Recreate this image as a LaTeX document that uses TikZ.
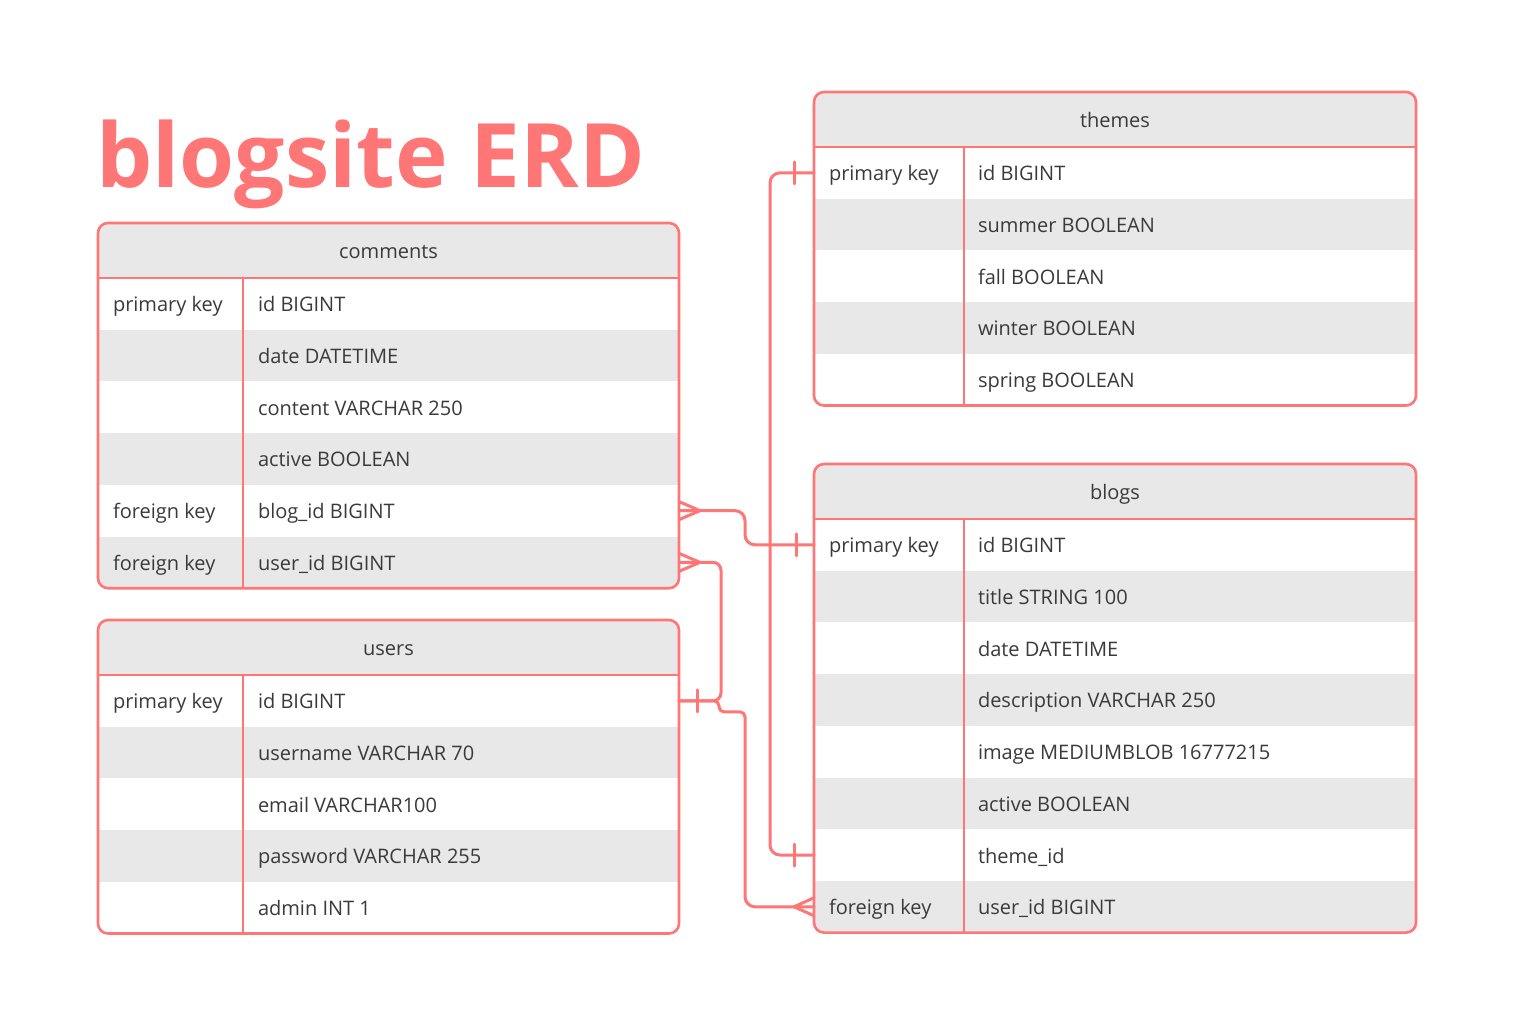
\documentclass[tikz,border=0pt]{standalone}
\usepackage{fontspec}
\setmainfont{Open Sans}
\definecolor{erd}{HTML}{FF7676}
\definecolor{rowgray}{HTML}{E8E8E8}
\definecolor{txt}{HTML}{3A3A3A}
\newcommand\erdrow[8]{%
  \node[rowcell, fill=#6, minimum width=#4, anchor=north west] (#1) at (#2,#3) {};
  \node[celltext] (#1-k) at ([xshift=15, yshift=-8]#1.west) {#7};
  \node[celltext] (#1-v) at ([xshift={#5+15}, yshift=-8]#1.west) {#8};
}
\newcommand\erdhead[5]{% name, x, y, width, title
  \node[rowcell, fill=rowgray, minimum width=#4, minimum height=55, anchor=north west] (#1) at (#2,#3) {};
  \node[celltext, anchor=base] (#1-t) at ([yshift=-8]#1.center) {#5};
}
\begin{document}
\begin{tikzpicture}[x=1pt,y=-1pt,
  rowcell/.style={draw=none, inner sep=0, outer sep=0, minimum height=51.7},
  celltext/.style={anchor=base west, inner sep=0, outer sep=0, text=txt, font=\fontsize{20}{24}\selectfont},
  tableline/.style={draw=erd, line width=2.6},
  conn/.style={draw=erd, line width=3, line cap=round, line join=round}]
\useasboundingbox[fill=white] (0,0) rectangle (1524,1025);

\node[anchor=base west, inner sep=0, text=erd, font=\fontsize{89}{100}\selectfont\bfseries] (title) at (96,187) {blogsite ERD};

% ---------- comments ----------
\begin{scope}
\clip[rounded corners=10] (98,223) rectangle (679,588.2);
\erdhead{comments}{98}{223}{581}{comments}
\erdrow{cid}{98}{278}{581}{145}{white}{primary key}{id BIGINT}
\erdrow{cdate}{98}{329.7}{581}{145}{rowgray}{}{date DATETIME}
\erdrow{ccontent}{98}{381.4}{581}{145}{white}{}{content VARCHAR 250}
\erdrow{cactive}{98}{433.1}{581}{145}{rowgray}{}{active BOOLEAN}
\erdrow{cblog}{98}{484.8}{581}{145}{white}{foreign key}{blog\_id BIGINT}
\erdrow{cuser}{98}{536.5}{581}{145}{rowgray}{foreign key}{user\_id BIGINT}
\end{scope}
\draw[tableline] (98,278) -- (679,278);
\draw[tableline] (243,278) -- (243,588.2);
\draw[tableline, rounded corners=10] (98,223) rectangle (679,588.2);

% ---------- users ----------
\begin{scope}
\clip[rounded corners=10] (98,620) rectangle (679,933.5);
\erdhead{users}{98}{620}{581}{users}
\erdrow{uid}{98}{675}{581}{145}{white}{primary key}{id BIGINT}
\erdrow{uname}{98}{726.7}{581}{145}{rowgray}{}{username VARCHAR 70}
\erdrow{uemail}{98}{778.4}{581}{145}{white}{}{email VARCHAR100}
\erdrow{upass}{98}{830.1}{581}{145}{rowgray}{}{password VARCHAR 255}
\erdrow{uadmin}{98}{881.8}{581}{145}{white}{}{admin INT 1}
\end{scope}
\draw[tableline] (98,675) -- (679,675);
\draw[tableline] (243,675) -- (243,933.5);
\draw[tableline, rounded corners=10] (98,620) rectangle (679,933.5);

% ---------- themes ----------
\begin{scope}
\clip[rounded corners=10] (814,92) rectangle (1416,405.5);
\erdhead{themes}{814}{92}{602}{themes}
\erdrow{tid}{814}{147}{602}{149}{white}{primary key}{id BIGINT}
\erdrow{tsummer}{814}{198.7}{602}{149}{rowgray}{}{summer BOOLEAN}
\erdrow{tfall}{814}{250.4}{602}{149}{white}{}{fall BOOLEAN}
\erdrow{twinter}{814}{302.1}{602}{149}{rowgray}{}{winter BOOLEAN}
\erdrow{tspring}{814}{353.8}{602}{149}{white}{}{spring BOOLEAN}
\end{scope}
\draw[tableline] (814,147) -- (1416,147);
\draw[tableline] (964,147) -- (964,405.5);
\draw[tableline, rounded corners=10] (814,92) rectangle (1416,405.5);

% ---------- blogs ----------
\begin{scope}
\clip[rounded corners=10] (814,464) rectangle (1416,932.6);
\erdhead{blogs}{814}{464}{602}{blogs}
\erdrow{bid}{814}{519}{602}{149}{white}{primary key}{id BIGINT}
\erdrow{btitle}{814}{570.7}{602}{149}{rowgray}{}{title STRING 100}
\erdrow{bdate}{814}{622.4}{602}{149}{white}{}{date DATETIME}
\erdrow{bdesc}{814}{674.1}{602}{149}{rowgray}{}{description VARCHAR 250}
\erdrow{bimage}{814}{725.8}{602}{149}{white}{}{image MEDIUMBLOB 16777215}
\erdrow{bactive}{814}{777.5}{602}{149}{rowgray}{}{active BOOLEAN}
\erdrow{btheme}{814}{829.2}{602}{149}{white}{}{theme\_id}
\erdrow{buser}{814}{880.9}{602}{149}{rowgray}{foreign key}{user\_id BIGINT}
\end{scope}
\draw[tableline] (814,519) -- (1416,519);
\draw[tableline] (964,519) -- (964,932.6);
\draw[tableline, rounded corners=10] (814,464) rectangle (1416,932.6);

% ---------- connectors ----------
% comments.blog_id >-- blogs.id
\draw[conn, rounded corners=10] (cblog.east) -- ++(66,0) |- (bid.west);
\draw[conn] ([yshift=9]cblog.east) -- ([xshift=21]cblog.east) -- ([yshift=-9]cblog.east);
\draw[conn] ([xshift=-18,yshift=11]bid.west) -- ([xshift=-18,yshift=-11]bid.west);

% comments.user_id >-- users.id
\draw[conn, rounded corners=8] (cuser.east) -- ++(42,0) |- (uid.east);
\draw[conn] ([yshift=9]cuser.east) -- ([xshift=21]cuser.east) -- ([yshift=-9]cuser.east);
\draw[conn] ([xshift=18,yshift=11]uid.east) -- ([xshift=18,yshift=-11]uid.east);

% users.id --< blogs.user_id
\draw[conn] (uid.east) [rounded corners=5] -- ++(40,0) -- ++(0,11) -- ++(26,0)
  [rounded corners=10] |- (buser.west);
\draw[conn] ([yshift=9]buser.west) -- ([xshift=-20]buser.west) -- ([yshift=-9]buser.west);

% themes.id -- blogs.theme_id
\draw[conn, rounded corners=10] (tid.west) -- ++(-44,0) |- (btheme.west);
\draw[conn] ([xshift=-20,yshift=11]tid.west) -- ([xshift=-20,yshift=-11]tid.west);
\draw[conn] ([xshift=-20,yshift=11]btheme.west) -- ([xshift=-20,yshift=-11]btheme.west);
\end{tikzpicture}
\end{document}
